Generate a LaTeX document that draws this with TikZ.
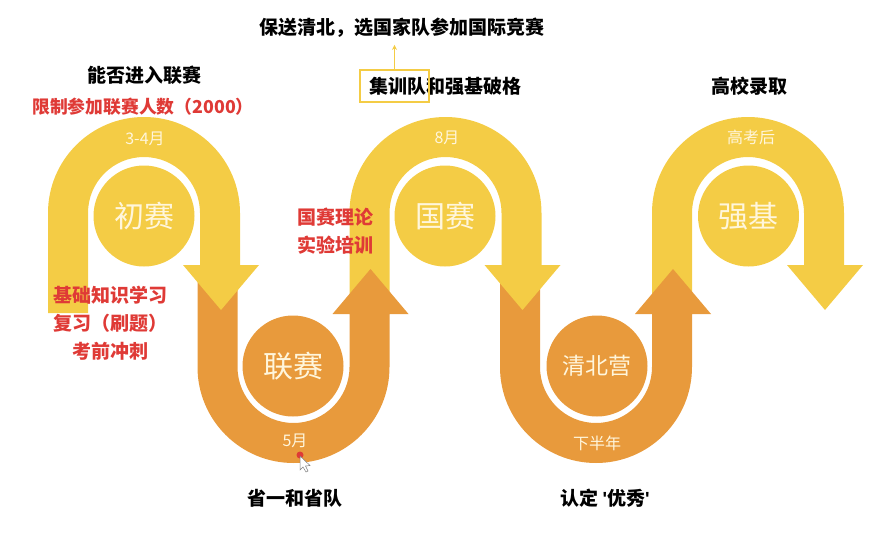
\documentclass[tikz,border=0pt]{standalone}
\usepackage{fontspec}
\setmainfont{Noto Sans CJK SC}
\newfontfamily\quotefont{Liberation Sans}
\usetikzlibrary{arrows.meta}
\definecolor{archyellow}{HTML}{F4CC45}
\definecolor{archorange}{HTML}{E89A3C}
\definecolor{labelred}{HTML}{DF3A36}
\definecolor{cream}{HTML}{FFF6DC}
\tikzset{
    stage/.style={circle, minimum size=101pt, inner sep=0pt, text=cream, font=\fontsize{30}{32}\selectfont},
    month/.style={text=cream, inner sep=0pt, font=\fontsize{16}{18}\selectfont},
    heading/.style={inner sep=0pt, text=black, font=\bfseries\fontsize{19}{22}\selectfont},
    remark/.style={inner sep=0pt, align=center, text=labelred, font=\bfseries\fontsize{19}{28}\selectfont}
}
\begin{document}
\begin{tikzpicture}[x=1pt, y=-1pt]
    \useasboundingbox (0,0) rectangle (879,536);
    % arches and bends, later ones lie over the stems of earlier ones
    \foreach \x/\kind in {748/y, 596/o, 445.5/y, 293.5/o, 144/y} {
        \if y\kind
            \fill[archyellow] (\x-96,313) -- (\x-96,213) arc[start angle=180, end angle=360, radius=96]
                -- (\x+96,265) -- (\x+115,265) -- (\x+77,310) -- (\x+39,265) -- (\x+56,265)
                -- (\x+56,213) arc[start angle=360, end angle=180, radius=56] -- (\x-56,313) -- cycle;
        \else
            \fill[archorange] (\x-96,275) -- (\x-96,367) arc[start angle=180, end angle=0, radius=96]
                -- (\x+96,314) -- (\x+115,314) -- (\x+77,269) -- (\x+39,314) -- (\x+56,314)
                -- (\x+56,367) arc[start angle=0, end angle=180, radius=56] -- (\x-56,275) -- cycle;
        \fi
    }
    % stage circles
    \node[stage, fill=archyellow] (chusai) at (144,216) {初赛};
    \node[stage, fill=archorange] (liansai) at (293,366) {联赛};
    \node[stage, fill=archyellow] (guosai) at (445,216) {国赛};
    \node[stage, fill=archorange, font=\fontsize{23}{25}\selectfont] (qingbei) at (597,366) {清北营};
    \node[stage, fill=archyellow] (qiangji) at (748.5,216) {强基};
    % times on the arches
    \node[month] (t1) at (145,139) {3-4月};
    \node[month] (t2) at (295,441) {5月};
    \node[month] (t3) at (447,138) {8月};
    \node[month] (t4) at (597,443) {下半年};
    \node[month] (t5) at (751,137) {高考后};
    % headings
    \node[heading] (jinru) at (144.5,75) {能否进入联赛};
    \node[heading] (baosong) at (401.5,28) {保送清北，选国家队参加国际竞赛};
    \node[heading] (jixun) at (445,86) {集训队和强基破格};
    \node[heading] (luqu) at (749,86) {高校录取};
    \node[heading] (shengyi) at (295,498) {省一和省队};
    \node[heading] (rending) at (605,498) {认定 {\quotefont\bfseries '}优秀{\quotefont\bfseries '}};
    % red remarks
    \node[remark, font=\bfseries\fontsize{17.8}{20}\selectfont] (xianzhi) at (143,107) {限制参加联赛人数（2000）};
    \node[remark] (jichu) at (110,323.5) {基础知识学习\\复习（刷题）\\考前冲刺};
    \node[remark] (lilun) at (335.5,231) {国赛理论\\实验培训};
    % box round the start of the heading
    \node[draw=archyellow, line width=1.3pt, minimum width=69pt, minimum height=32pt, inner sep=0pt] (jixunbox) at (394.5,86) {};
    \draw[archyellow, line width=1pt, -{Stealth[length=5pt,width=5pt]}, shorten >=7pt] (jixunbox.north) -- (jixunbox.north |- baosong.south);
    % pointer left on the screen
    \fill[labelred] (300,455) circle (3.5);
    \fill[white, draw=gray, line width=0.5pt] (300,456) -- (300,470) -- (303,467) -- (306,472) -- (308,471) -- (305.5,466) -- (310,465.5) -- cycle;
\end{tikzpicture}
\end{document}
